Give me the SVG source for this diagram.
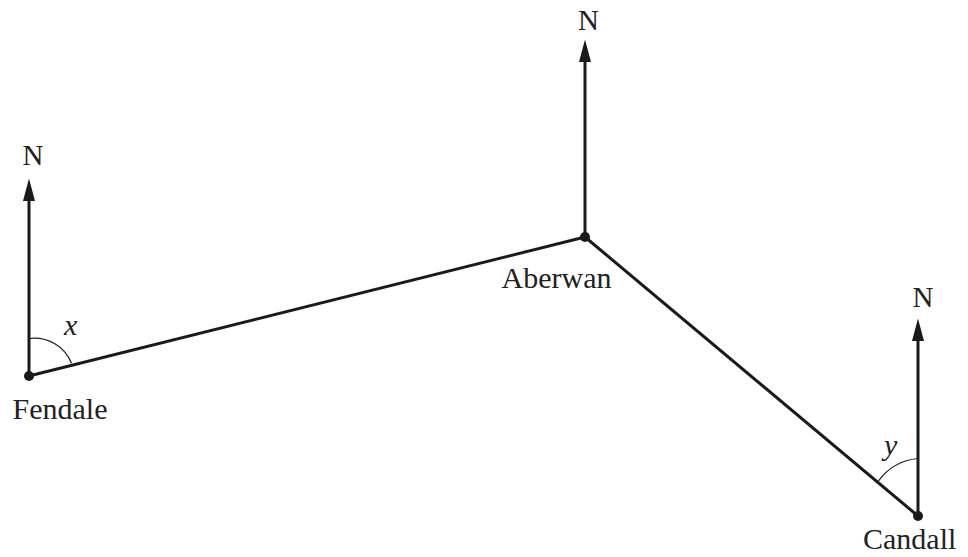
<svg xmlns="http://www.w3.org/2000/svg" width="968" height="557" viewBox="0 0 968 557">
<style>
.ln{stroke:#1a1a1a;stroke-width:3;fill:none}
.ar{stroke:#1a1a1a;stroke-width:3;fill:none;marker-end:url(#ah)}
.arc{stroke:#1a1a1a;stroke-width:1.2;fill:none}
.dot{fill:#1a1a1a}
text{font-family:'Liberation Serif','Tinos','Times New Roman','DejaVu Serif','Noto Serif',serif;font-size:30px;fill:#222}
.n{text-anchor:middle;font-size:29px}
.it{font-style:italic}
</style>
<defs>
<marker id="ah" markerUnits="userSpaceOnUse" markerWidth="23" markerHeight="13" viewBox="0 0 23 13" refX="0" refY="6.5" orient="auto">
<path d="M0,0.5 L22.5,6.5 L0,12.5 Z" fill="#1a1a1a"/>
</marker>
</defs>
<g id="connectors">
<line class="ln" x1="29" y1="376" x2="585" y2="237"/>
<line class="ln" x1="585" y1="237" x2="918" y2="516"/>
<line class="ar" x1="29" y1="376" x2="29" y2="201"/>
<line class="ar" x1="585" y1="237" x2="585" y2="62"/>
<line class="ar" x1="918" y1="516" x2="918" y2="341"/>
<path class="arc" d="M29,338.5 A40,40 0 0 1 71.5,363.2"/>
<path class="arc" d="M918,458.5 A56,56 0 0 0 878.5,480.8"/>
</g>
<g id="fendale">
<circle class="dot" cx="29" cy="376" r="5"/>
<text x="12.5" y="419" font-family="Liberation Serif, serif">Fendale</text>
<text class="n" x="33" y="165" font-family="Liberation Serif, serif">N</text>
<text class="it" x="64" y="335" font-family="Liberation Serif, serif">x</text>
</g>
<g id="aberwan">
<circle class="dot" cx="585" cy="237" r="5"/>
<text x="501.5" y="288" font-family="Liberation Serif, serif">Aberwan</text>
<text class="n" x="588.5" y="29.5" font-family="Liberation Serif, serif">N</text>
</g>
<g id="candall">
<circle class="dot" cx="918" cy="516" r="5"/>
<text x="863" y="549" font-family="Liberation Serif, serif">Candall</text>
<text class="n" x="923" y="306.5" font-family="Liberation Serif, serif">N</text>
<text class="it" x="884" y="455" font-family="Liberation Serif, serif">y</text>
</g>
</svg>
